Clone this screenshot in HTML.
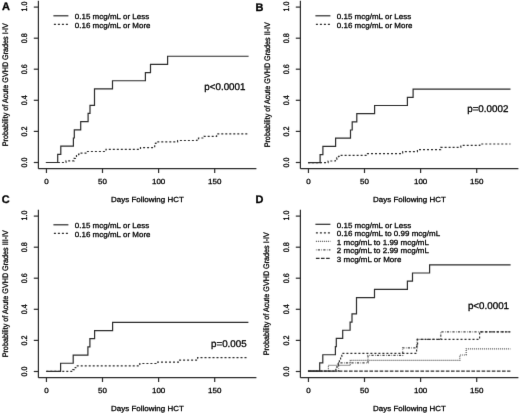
<!DOCTYPE html>
<html><head><meta charset="utf-8"><style>
html,body{margin:0;padding:0;background:#fff;width:520px;height:413px;overflow:hidden}
svg{display:block;will-change:transform}
text{font-family:"Liberation Sans", sans-serif;text-rendering:geometricPrecision}
</style></head><body>
<svg width="520" height="413" viewBox="0 0 520 413">
<defs><filter id="soft" filterUnits="userSpaceOnUse" x="0" y="0" width="520" height="413" color-interpolation-filters="sRGB"><feConvolveMatrix order="3" kernelMatrix="0 1 0 1 10 1 0 1 0" edgeMode="none"/></filter><filter id="softt" filterUnits="userSpaceOnUse" x="0" y="0" width="520" height="413" color-interpolation-filters="sRGB"><feConvolveMatrix order="3" kernelMatrix="0 1 0 1 12 1 0 1 0" edgeMode="none"/></filter></defs>
<g>
<rect width="520" height="413" fill="#fff"/>
<g font-family='"Liberation Sans", sans-serif' fill="#000" stroke="#000" stroke-width="3.0" filter="url(#softt)">
<text transform="translate(2.00 10.40) scale(0.1000 0.1000)" font-size="110" text-anchor="start" font-weight="bold">A</text>
<text transform="translate(255.60 10.60) scale(0.1000 0.1000)" font-size="110" text-anchor="start" font-weight="bold">B</text>
<text transform="translate(1.80 203.30) scale(0.1000 0.1000)" font-size="110" text-anchor="start" font-weight="bold">C</text>
<text transform="translate(255.60 202.90) scale(0.1000 0.1000)" font-size="110" text-anchor="start" font-weight="bold">D</text>
<text transform="translate(26.90 162.50) scale(0.1000 0.0900) rotate(-90)" font-size="80" text-anchor="middle">0.0</text>
<text transform="translate(26.90 131.40) scale(0.1000 0.0900) rotate(-90)" font-size="80" text-anchor="middle">0.2</text>
<text transform="translate(26.90 100.30) scale(0.1000 0.0900) rotate(-90)" font-size="80" text-anchor="middle">0.4</text>
<text transform="translate(26.90 69.20) scale(0.1000 0.0900) rotate(-90)" font-size="80" text-anchor="middle">0.6</text>
<text transform="translate(26.90 38.20) scale(0.1000 0.0900) rotate(-90)" font-size="80" text-anchor="middle">0.8</text>
<text transform="translate(26.90 6.50) scale(0.1000 0.0900) rotate(-90)" font-size="80" text-anchor="middle">1.0</text>
<text transform="translate(46.45 184.10) scale(0.1000 0.0930)" font-size="80" text-anchor="middle">0</text>
<text transform="translate(102.50 184.10) scale(0.1000 0.0930)" font-size="80" text-anchor="middle">50</text>
<text transform="translate(158.60 184.10) scale(0.1000 0.0930)" font-size="80" text-anchor="middle">100</text>
<text transform="translate(214.70 184.10) scale(0.1000 0.0930)" font-size="80" text-anchor="middle">150</text>
<text transform="translate(147.40 201.70) scale(0.1000 0.0930)" font-size="80" text-anchor="middle">Days Following HCT</text>
<text transform="translate(7.90 84.70) scale(0.1000 0.0900) rotate(-90)" font-size="80" text-anchor="middle">Probability of Acute GVHD Grades I-IV</text>
<text transform="translate(74.80 19.00) scale(0.1000 0.0930)" font-size="80" text-anchor="start">0.15 mcg/mL or Less</text>
<text transform="translate(74.80 27.50) scale(0.1000 0.0930)" font-size="80" text-anchor="start">0.16 mcg/mL or More</text>
<text transform="translate(204.30 90.00) scale(0.1000 0.1000)" font-size="98.0" text-anchor="start">p&lt;0.0001</text>
<text transform="translate(288.90 162.50) scale(0.1000 0.0900) rotate(-90)" font-size="80" text-anchor="middle">0.0</text>
<text transform="translate(288.90 131.40) scale(0.1000 0.0900) rotate(-90)" font-size="80" text-anchor="middle">0.2</text>
<text transform="translate(288.90 100.30) scale(0.1000 0.0900) rotate(-90)" font-size="80" text-anchor="middle">0.4</text>
<text transform="translate(288.90 69.20) scale(0.1000 0.0900) rotate(-90)" font-size="80" text-anchor="middle">0.6</text>
<text transform="translate(288.90 38.20) scale(0.1000 0.0900) rotate(-90)" font-size="80" text-anchor="middle">0.8</text>
<text transform="translate(288.90 6.50) scale(0.1000 0.0900) rotate(-90)" font-size="80" text-anchor="middle">1.0</text>
<text transform="translate(308.45 184.10) scale(0.1000 0.0930)" font-size="80" text-anchor="middle">0</text>
<text transform="translate(364.50 184.10) scale(0.1000 0.0930)" font-size="80" text-anchor="middle">50</text>
<text transform="translate(420.60 184.10) scale(0.1000 0.0930)" font-size="80" text-anchor="middle">100</text>
<text transform="translate(476.70 184.10) scale(0.1000 0.0930)" font-size="80" text-anchor="middle">150</text>
<text transform="translate(409.40 201.70) scale(0.1000 0.0930)" font-size="80" text-anchor="middle">Days Following HCT</text>
<text transform="translate(269.90 84.70) scale(0.1000 0.0900) rotate(-90)" font-size="80" text-anchor="middle">Probability of Acute GVHD Grades II-IV</text>
<text transform="translate(336.80 19.00) scale(0.1000 0.0930)" font-size="80" text-anchor="start">0.15 mcg/mL or Less</text>
<text transform="translate(336.80 27.50) scale(0.1000 0.0930)" font-size="80" text-anchor="start">0.16 mcg/mL or More</text>
<text transform="translate(467.20 112.10) scale(0.1000 0.1000)" font-size="98.0" text-anchor="start">p=0.0002</text>
<text transform="translate(26.90 371.50) scale(0.1000 0.0900) rotate(-90)" font-size="80" text-anchor="middle">0.0</text>
<text transform="translate(26.90 340.40) scale(0.1000 0.0900) rotate(-90)" font-size="80" text-anchor="middle">0.2</text>
<text transform="translate(26.90 309.30) scale(0.1000 0.0900) rotate(-90)" font-size="80" text-anchor="middle">0.4</text>
<text transform="translate(26.90 278.20) scale(0.1000 0.0900) rotate(-90)" font-size="80" text-anchor="middle">0.6</text>
<text transform="translate(26.90 247.20) scale(0.1000 0.0900) rotate(-90)" font-size="80" text-anchor="middle">0.8</text>
<text transform="translate(26.90 215.50) scale(0.1000 0.0900) rotate(-90)" font-size="80" text-anchor="middle">1.0</text>
<text transform="translate(46.45 393.10) scale(0.1000 0.0930)" font-size="80" text-anchor="middle">0</text>
<text transform="translate(102.50 393.10) scale(0.1000 0.0930)" font-size="80" text-anchor="middle">50</text>
<text transform="translate(158.60 393.10) scale(0.1000 0.0930)" font-size="80" text-anchor="middle">100</text>
<text transform="translate(214.70 393.10) scale(0.1000 0.0930)" font-size="80" text-anchor="middle">150</text>
<text transform="translate(147.40 410.70) scale(0.1000 0.0930)" font-size="80" text-anchor="middle">Days Following HCT</text>
<text transform="translate(7.90 293.70) scale(0.1000 0.0900) rotate(-90)" font-size="80" text-anchor="middle">Probability of Acute GVHD Grades III-IV</text>
<text transform="translate(74.80 228.00) scale(0.1000 0.0930)" font-size="80" text-anchor="start">0.15 mcg/mL or Less</text>
<text transform="translate(74.80 236.50) scale(0.1000 0.0930)" font-size="80" text-anchor="start">0.16 mcg/mL or More</text>
<text transform="translate(211.00 346.70) scale(0.1000 0.1000)" font-size="98.0" text-anchor="start">p=0.005</text>
<text transform="translate(288.90 371.50) scale(0.1000 0.0900) rotate(-90)" font-size="80" text-anchor="middle">0.0</text>
<text transform="translate(288.90 340.40) scale(0.1000 0.0900) rotate(-90)" font-size="80" text-anchor="middle">0.2</text>
<text transform="translate(288.90 309.30) scale(0.1000 0.0900) rotate(-90)" font-size="80" text-anchor="middle">0.4</text>
<text transform="translate(288.90 278.20) scale(0.1000 0.0900) rotate(-90)" font-size="80" text-anchor="middle">0.6</text>
<text transform="translate(288.90 247.20) scale(0.1000 0.0900) rotate(-90)" font-size="80" text-anchor="middle">0.8</text>
<text transform="translate(288.90 215.50) scale(0.1000 0.0900) rotate(-90)" font-size="80" text-anchor="middle">1.0</text>
<text transform="translate(308.45 393.10) scale(0.1000 0.0930)" font-size="80" text-anchor="middle">0</text>
<text transform="translate(364.50 393.10) scale(0.1000 0.0930)" font-size="80" text-anchor="middle">50</text>
<text transform="translate(420.60 393.10) scale(0.1000 0.0930)" font-size="80" text-anchor="middle">100</text>
<text transform="translate(476.70 393.10) scale(0.1000 0.0930)" font-size="80" text-anchor="middle">150</text>
<text transform="translate(409.40 410.70) scale(0.1000 0.0930)" font-size="80" text-anchor="middle">Days Following HCT</text>
<text transform="translate(269.30 293.70) scale(0.1000 0.0900) rotate(-90)" font-size="80" text-anchor="middle">Probability of Acute GVHD Grades I-IV</text>
<text transform="translate(336.80 227.50) scale(0.1000 0.0930)" font-size="80" text-anchor="start">0.15 mcg/mL or Less</text>
<text transform="translate(336.80 236.00) scale(0.1000 0.0930)" font-size="80" text-anchor="start">0.16 mcg/mL to 0.99 mcg/mL</text>
<text transform="translate(336.80 244.50) scale(0.1000 0.0930)" font-size="80" text-anchor="start">1 mcg/mL to 1.99 mcg/mL</text>
<text transform="translate(336.80 253.00) scale(0.1000 0.0930)" font-size="80" text-anchor="start">2 mcg/mL to 2.99 mcg/mL</text>
<text transform="translate(336.80 261.50) scale(0.1000 0.0930)" font-size="80" text-anchor="start">3 mcg/mL or More</text>
<text transform="translate(467.90 309.40) scale(0.1000 0.1000)" font-size="98.0" text-anchor="start">p&lt;0.0001</text>
</g>
<g fill="none" filter="url(#soft)">
<line x1="38.40" y1="0.80" x2="38.40" y2="168.70" stroke="#2a2a2a" stroke-width="1.2"/>
<line x1="38.40" y1="168.70" x2="256.40" y2="168.70" stroke="#2a2a2a" stroke-width="1.2"/>
<line x1="33.80" y1="162.50" x2="38.40" y2="162.50" stroke="#2a2a2a" stroke-width="1.2"/>
<line x1="33.80" y1="131.40" x2="38.40" y2="131.40" stroke="#2a2a2a" stroke-width="1.2"/>
<line x1="33.80" y1="100.30" x2="38.40" y2="100.30" stroke="#2a2a2a" stroke-width="1.2"/>
<line x1="33.80" y1="69.20" x2="38.40" y2="69.20" stroke="#2a2a2a" stroke-width="1.2"/>
<line x1="33.80" y1="38.20" x2="38.40" y2="38.20" stroke="#2a2a2a" stroke-width="1.2"/>
<line x1="33.80" y1="7.10" x2="38.40" y2="7.10" stroke="#2a2a2a" stroke-width="1.2"/>
<line x1="46.45" y1="168.70" x2="46.45" y2="173.00" stroke="#2a2a2a" stroke-width="1.2"/>
<line x1="102.50" y1="168.70" x2="102.50" y2="173.00" stroke="#2a2a2a" stroke-width="1.2"/>
<line x1="158.60" y1="168.70" x2="158.60" y2="173.00" stroke="#2a2a2a" stroke-width="1.2"/>
<line x1="214.70" y1="168.70" x2="214.70" y2="173.00" stroke="#2a2a2a" stroke-width="1.2"/>
<line x1="53.40" y1="15.80" x2="68.40" y2="15.80" stroke="#2a2a2a" stroke-width="1.2"/>
<line x1="53.90" y1="24.30" x2="68.40" y2="24.30" stroke="#2a2a2a" stroke-width="1.2" stroke-dasharray="2 2"/>
<line x1="300.40" y1="0.80" x2="300.40" y2="168.70" stroke="#2a2a2a" stroke-width="1.2"/>
<line x1="300.40" y1="168.70" x2="518.40" y2="168.70" stroke="#2a2a2a" stroke-width="1.2"/>
<line x1="295.80" y1="162.50" x2="300.40" y2="162.50" stroke="#2a2a2a" stroke-width="1.2"/>
<line x1="295.80" y1="131.40" x2="300.40" y2="131.40" stroke="#2a2a2a" stroke-width="1.2"/>
<line x1="295.80" y1="100.30" x2="300.40" y2="100.30" stroke="#2a2a2a" stroke-width="1.2"/>
<line x1="295.80" y1="69.20" x2="300.40" y2="69.20" stroke="#2a2a2a" stroke-width="1.2"/>
<line x1="295.80" y1="38.20" x2="300.40" y2="38.20" stroke="#2a2a2a" stroke-width="1.2"/>
<line x1="295.80" y1="7.10" x2="300.40" y2="7.10" stroke="#2a2a2a" stroke-width="1.2"/>
<line x1="308.45" y1="168.70" x2="308.45" y2="173.00" stroke="#2a2a2a" stroke-width="1.2"/>
<line x1="364.50" y1="168.70" x2="364.50" y2="173.00" stroke="#2a2a2a" stroke-width="1.2"/>
<line x1="420.60" y1="168.70" x2="420.60" y2="173.00" stroke="#2a2a2a" stroke-width="1.2"/>
<line x1="476.70" y1="168.70" x2="476.70" y2="173.00" stroke="#2a2a2a" stroke-width="1.2"/>
<line x1="315.40" y1="15.80" x2="330.40" y2="15.80" stroke="#2a2a2a" stroke-width="1.2"/>
<line x1="315.90" y1="24.30" x2="330.40" y2="24.30" stroke="#2a2a2a" stroke-width="1.2" stroke-dasharray="2 2"/>
<line x1="38.40" y1="209.80" x2="38.40" y2="377.70" stroke="#2a2a2a" stroke-width="1.2"/>
<line x1="38.40" y1="377.70" x2="256.40" y2="377.70" stroke="#2a2a2a" stroke-width="1.2"/>
<line x1="33.80" y1="371.50" x2="38.40" y2="371.50" stroke="#2a2a2a" stroke-width="1.2"/>
<line x1="33.80" y1="340.40" x2="38.40" y2="340.40" stroke="#2a2a2a" stroke-width="1.2"/>
<line x1="33.80" y1="309.30" x2="38.40" y2="309.30" stroke="#2a2a2a" stroke-width="1.2"/>
<line x1="33.80" y1="278.20" x2="38.40" y2="278.20" stroke="#2a2a2a" stroke-width="1.2"/>
<line x1="33.80" y1="247.20" x2="38.40" y2="247.20" stroke="#2a2a2a" stroke-width="1.2"/>
<line x1="33.80" y1="216.10" x2="38.40" y2="216.10" stroke="#2a2a2a" stroke-width="1.2"/>
<line x1="46.45" y1="377.70" x2="46.45" y2="382.00" stroke="#2a2a2a" stroke-width="1.2"/>
<line x1="102.50" y1="377.70" x2="102.50" y2="382.00" stroke="#2a2a2a" stroke-width="1.2"/>
<line x1="158.60" y1="377.70" x2="158.60" y2="382.00" stroke="#2a2a2a" stroke-width="1.2"/>
<line x1="214.70" y1="377.70" x2="214.70" y2="382.00" stroke="#2a2a2a" stroke-width="1.2"/>
<line x1="53.40" y1="224.80" x2="68.40" y2="224.80" stroke="#2a2a2a" stroke-width="1.2"/>
<line x1="53.90" y1="233.30" x2="68.40" y2="233.30" stroke="#2a2a2a" stroke-width="1.2" stroke-dasharray="2 2"/>
<line x1="300.40" y1="209.80" x2="300.40" y2="377.70" stroke="#2a2a2a" stroke-width="1.2"/>
<line x1="300.40" y1="377.70" x2="518.40" y2="377.70" stroke="#2a2a2a" stroke-width="1.2"/>
<line x1="295.80" y1="371.50" x2="300.40" y2="371.50" stroke="#2a2a2a" stroke-width="1.2"/>
<line x1="295.80" y1="340.40" x2="300.40" y2="340.40" stroke="#2a2a2a" stroke-width="1.2"/>
<line x1="295.80" y1="309.30" x2="300.40" y2="309.30" stroke="#2a2a2a" stroke-width="1.2"/>
<line x1="295.80" y1="278.20" x2="300.40" y2="278.20" stroke="#2a2a2a" stroke-width="1.2"/>
<line x1="295.80" y1="247.20" x2="300.40" y2="247.20" stroke="#2a2a2a" stroke-width="1.2"/>
<line x1="295.80" y1="216.10" x2="300.40" y2="216.10" stroke="#2a2a2a" stroke-width="1.2"/>
<line x1="308.45" y1="377.70" x2="308.45" y2="382.00" stroke="#2a2a2a" stroke-width="1.2"/>
<line x1="364.50" y1="377.70" x2="364.50" y2="382.00" stroke="#2a2a2a" stroke-width="1.2"/>
<line x1="420.60" y1="377.70" x2="420.60" y2="382.00" stroke="#2a2a2a" stroke-width="1.2"/>
<line x1="476.70" y1="377.70" x2="476.70" y2="382.00" stroke="#2a2a2a" stroke-width="1.2"/>
<line x1="315.40" y1="224.30" x2="330.40" y2="224.30" stroke="#2a2a2a" stroke-width="1.2"/>
<line x1="315.90" y1="232.80" x2="330.40" y2="232.80" stroke="#2a2a2a" stroke-width="1.2" stroke-dasharray="2 2"/>
<line x1="315.90" y1="241.30" x2="330.40" y2="241.30" stroke="#555" stroke-width="1.2" stroke-dasharray="1 1"/>
<line x1="315.90" y1="249.80" x2="330.40" y2="249.80" stroke="#444" stroke-width="1.2" stroke-dasharray="0.6 1.3 2.2 1.4"/>
<line x1="315.90" y1="258.30" x2="330.40" y2="258.30" stroke="#2a2a2a" stroke-width="1.2" stroke-dasharray="3.6 1.5"/>
<path d="M45.90 162.50H66.00V160.80H74.10V158.40H75.30V157.20H76.50V155.60H78.60V154.20H80.40V153.10H87.50V151.50H106.00V149.40H140.50V147.70H154.70V145.20H155.40V143.30H156.00V141.90H177.60V140.50H197.00V139.00H198.50V138.00H204.00V136.30H216.60V133.90H248.60" fill="none" stroke="#2a2a2a" stroke-width="1.2" stroke-dasharray="2 2"/>
<path d="M45.90 162.50H57.70V154.33H60.80V146.15H73.40V137.98H74.30V129.80H80.70V121.63H88.10V113.46H90.00V105.28H94.50V88.93H112.50V80.76H145.40V72.59H150.50V64.41H167.60V56.24H248.60" fill="none" stroke="#2a2a2a" stroke-width="1.2"/>
<path d="M308.00 162.70H328.10V161.00H335.30V159.40H336.80V157.80H338.50V156.40H340.20V155.30H367.50V153.70H402.70V151.60H417.40V149.70H440.70V147.30H460.80V145.40H479.80V144.00H510.50" fill="none" stroke="#2a2a2a" stroke-width="1.2" stroke-dasharray="2 2"/>
<path d="M308.00 162.70H320.10V154.53H322.90V146.35H335.60V138.18H350.50V130.00H352.20V121.83H356.80V113.66H374.60V105.48H407.40V97.31H413.10V89.13H510.50" fill="none" stroke="#2a2a2a" stroke-width="1.2"/>
<path d="M46.30 371.40H72.70V369.60H74.30V367.70H75.80V365.80H139.80V363.50H155.90V362.10H178.40V360.20H197.60V357.60H248.40" fill="none" stroke="#2a2a2a" stroke-width="1.2" stroke-dasharray="2 2"/>
<path d="M46.30 371.40H60.60V363.23H73.20V355.05H87.90V346.88H89.90V338.70H94.60V330.53H112.60V322.36H248.40" fill="none" stroke="#2a2a2a" stroke-width="1.2"/>
<path d="M308.2 371.1H510.4" fill="none" stroke="#2a2a2a" stroke-width="1.2" stroke-dasharray="3.6 1.5"/>
<path d="M308.20 371.10H328.40V365.40H350.30V360.30H459.80V355.00H466.20V348.80H510.40" fill="none" stroke="#555" stroke-width="1.2" stroke-dasharray="1 1"/>
<path d="M308.20 371.10H338.60V362.90H368.00V355.40H402.70V347.80H417.00V339.40H440.80V331.90H510.40" fill="none" stroke="#444" stroke-width="1.2" stroke-dasharray="0.6 1.3 2.2 1.4"/>
<path d="M308.20 371.10H335.90V368.00H337.00V365.30H338.20V362.60H339.40V359.60H340.60V356.50H341.80V353.30H416.60V346.50H417.60V339.40H479.60V331.90H510.40" fill="none" stroke="#2a2a2a" stroke-width="1.2" stroke-dasharray="2 2"/>
<path d="M307.90 371.10H319.70V362.93H322.80V354.75H335.40V346.58H336.30V338.40H342.70V330.23H350.10V322.06H352.00V313.88H356.50V297.53H374.50V289.36H407.40V281.19H412.50V273.01H429.60V264.84H510.60" fill="none" stroke="#2a2a2a" stroke-width="1.2"/>
</g>
</g></svg>
</body></html>
